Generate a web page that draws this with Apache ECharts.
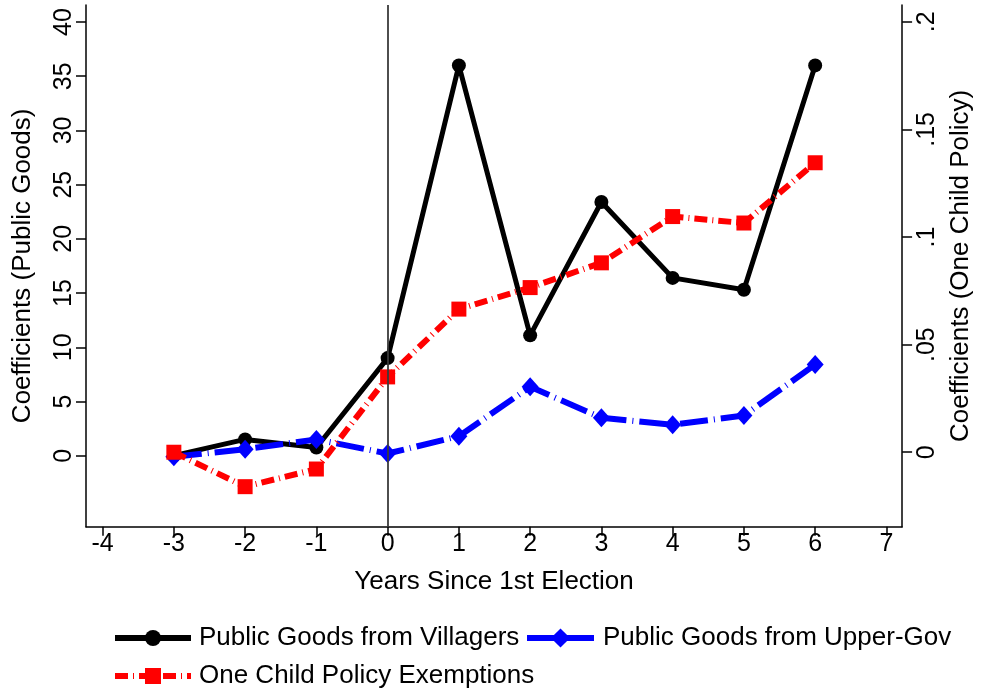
<!DOCTYPE html>
<html>
<head>
<meta charset="utf-8">
<script src="https://cdn.jsdelivr.net/npm/echarts@6/dist/echarts.min.js"></script>
<style>
  html, body { margin: 0; padding: 0; background: #ffffff; }
  #chart { width: 982px; height: 691px; }
</style>
</head>
<body>
<div id="chart"></div>
<script>
// ---- data ----
const years = [-3, -2, -1, 0, 1, 2, 3, 4, 5, 6];
const villagers = [0.0, 1.5, 0.75, 9.0, 36.0, 11.1, 23.4, 16.4, 15.3, 36.0];
const upperGov = [-0.1, 0.6, 1.5, 0.2, 1.8, 6.35, 3.5, 2.85, 3.7, 8.4];
const oneChild = [0.0, -0.016, -0.0078, 0.035, 0.0665, 0.0765, 0.088, 0.1095, 0.1065, 0.1345];

const xTicks = [-4, -3, -2, -1, 0, 1, 2, 3, 4, 5, 6, 7];
const leftTicks = [0, 5, 10, 15, 20, 25, 30, 35, 40];
const rightTicks = [0, 0.05, 0.1, 0.15, 0.2];

const seriesNames = ['Public Goods from Villagers', 'Public Goods from Upper-Gov', 'One Child Policy Exemptions'];
const xTitle = 'Years Since 1st Election';
const leftTitle = 'Coefficients (Public Goods)';
const rightTitle = 'Coefficients (One Child Policy)';

const FONT = "'Liberation Sans', Arial, sans-serif";

function pairs(xs, ys) { return xs.map((x, i) => [x, ys[i]]); }
function fmtRight(v) {
  if (v === 0) return '0';
  return String(+v.toFixed(3)).replace(/^0\./, '.');
}

const chart = echarts.init(document.getElementById('chart'), null, { renderer: 'canvas' });

const axisLineStyle = { color: '#000', width: 1.5 };
const RED_DASH = [13, 5, 1, 5];
const BLUE_DASH = [28, 6, 1, 6];

const option = {
  backgroundColor: '#ffffff',
  animation: false,
  textStyle: { fontFamily: FONT, color: '#000' },
  grid: { left: 86, right: 75.3, top: 5, bottom: 164.3, containLabel: false },
  xAxis: {
    type: 'value', min: -4.233, max: 7.22,
    name: xTitle, nameLocation: 'middle', nameGap: 42,
    nameTextStyle: { fontSize: 26, fontFamily: FONT, color: '#000' },
    axisLine: { show: true, onZero: false, lineStyle: axisLineStyle },
    axisTick: { show: true, length: 9, customValues: xTicks, lineStyle: axisLineStyle },
    axisLabel: { customValues: xTicks, fontSize: 25, margin: 5, color: '#000', fontFamily: FONT },
    splitLine: { show: false }
  },
  yAxis: [
    {
      type: 'value', position: 'left', min: -6.55, max: 41.57,
      name: leftTitle, nameLocation: 'middle', nameGap: 50, nameRotate: 90,
      nameTextStyle: { fontSize: 26, fontFamily: FONT, color: '#000' },
      axisLine: { show: true, onZero: false, lineStyle: axisLineStyle },
      axisTick: { show: true, length: 10, customValues: leftTicks, lineStyle: axisLineStyle },
      axisLabel: { customValues: leftTicks, rotate: 90, fontSize: 25, margin: 9, color: '#000', fontFamily: FONT },
      splitLine: { show: false }
    },
    {
      type: 'value', position: 'right', min: -0.0346, max: 0.2078,
      name: rightTitle, nameLocation: 'middle', nameGap: 44, nameRotate: 90,
      nameTextStyle: { fontSize: 26, fontFamily: FONT, color: '#000' },
      axisLine: { show: true, onZero: false, lineStyle: axisLineStyle },
      axisTick: { show: true, length: 10, customValues: rightTicks, lineStyle: axisLineStyle },
      axisLabel: { customValues: rightTicks, rotate: 90, fontSize: 25, margin: 13, color: '#000', fontFamily: FONT, formatter: fmtRight },
      splitLine: { show: false }
    }
  ],
  legend: [
    { data: [seriesNames[0]], left: 107, top: 620, itemWidth: 76, itemHeight: 20, itemGap: 0,
      lineStyle: { width: 6, type: 'solid' },
      textStyle: { fontSize: 26, fontFamily: FONT, color: '#000', padding: [0, 0, 0, 3] } },
    { data: [seriesNames[1]], left: 519, top: 620, itemWidth: 67, itemHeight: 24, itemGap: 0,
      lineStyle: { width: 6, type: 'solid' },
      textStyle: { fontSize: 26, fontFamily: FONT, color: '#000', padding: [0, 0, 0, 4] } },
    { data: [seriesNames[2]], left: 107, top: 658, itemWidth: 76, itemHeight: 20, itemGap: 0,
      lineStyle: { width: 6, type: RED_DASH },
      textStyle: { fontSize: 26, fontFamily: FONT, color: '#000', padding: [0, 0, 0, 3] } }
  ],
  series: [
    {
      name: seriesNames[0], type: 'line', yAxisIndex: 0,
      data: pairs(years, villagers),
      symbol: 'circle', symbolSize: 14,
      itemStyle: { color: '#000000' },
      lineStyle: { color: '#000000', width: 5, type: 'solid' },
      markLine: {
        silent: true, symbol: 'none', label: { show: false },
        lineStyle: { color: '#3a3a3a', width: 1.8, type: 'solid' },
        data: [{ xAxis: 0 }]
      },
      z: 2
    },
    {
      name: seriesNames[1], type: 'line', yAxisIndex: 0,
      data: pairs(years, upperGov),
      symbol: 'diamond', symbolSize: [17, 19],
      itemStyle: { color: '#0000ff' },
      lineStyle: { color: '#0000ff', width: 6, type: BLUE_DASH, cap: 'butt' },
      z: 3
    },
    {
      name: seriesNames[2], type: 'line', yAxisIndex: 1,
      data: pairs(years, oneChild),
      symbol: 'rect', symbolSize: 15,
      itemStyle: { color: '#ff0000' },
      lineStyle: { color: '#ff0000', width: 6, type: RED_DASH, cap: 'butt' },
      z: 4
    }
  ]
};

chart.setOption(option);
</script>
</body>
</html>
